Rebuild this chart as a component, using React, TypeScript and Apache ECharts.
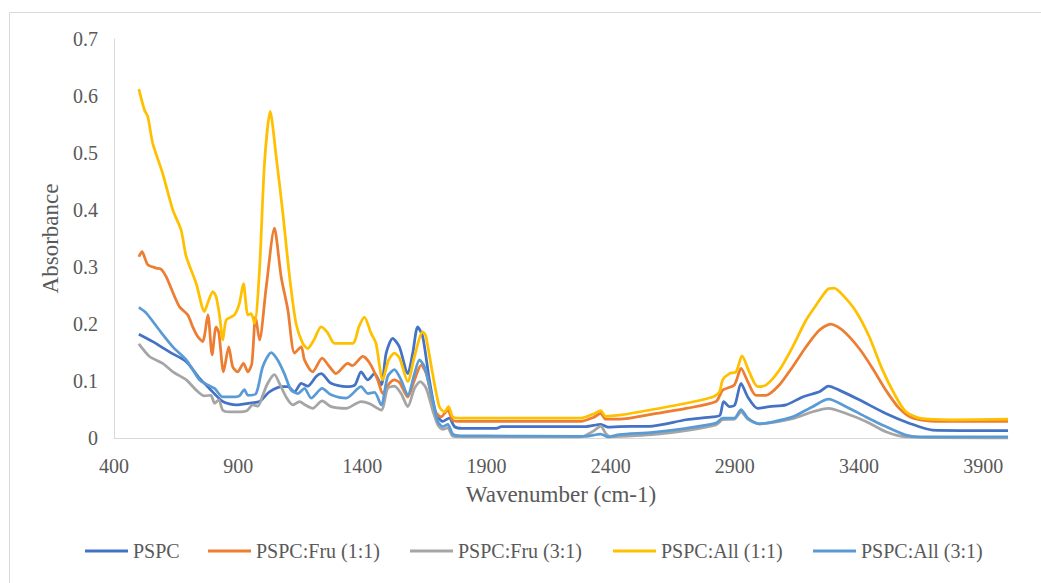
import React, { useEffect, useRef } from "react";
import * as echarts from "echarts";

// ---- Data ----
const seriesNames = ["PSPC", "PSPC:Fru (1:1)", "PSPC:Fru (3:1)", "PSPC:All (1:1)", "PSPC:All (3:1)"];
const seriesColors = ["#4472C4", "#ED7D31", "#A5A5A5", "#FFC000", "#5B9BD5"];

const xTicks = [400, 900, 1400, 1900, 2400, 2900, 3400, 3900];
const yTicks = [0, 0.1, 0.2, 0.3, 0.4, 0.5, 0.6, 0.7];

const pspcWn = [500, 556, 623, 691, 744, 784, 838, 892, 945, 986, 1026, 1080, 1100, 1127, 1154, 1180, 1214, 1234, 1274, 1335, 1370, 1395, 1422, 1449, 1476, 1496, 1522, 1549, 1583, 1603, 1623, 1643, 1670, 1697, 1724, 1750, 1771, 1800, 1940, 1960, 2300, 2360, 2390, 2435, 2569, 2704, 2811, 2840, 2855, 2878, 2900, 2925, 2952, 2992, 3039, 3106, 3173, 3240, 3277, 3320, 3401, 3508, 3602, 3696, 4000];
const pspcAbs = [0.182, 0.169, 0.151, 0.134, 0.105, 0.087, 0.064, 0.058, 0.061, 0.064, 0.081, 0.090, 0.090, 0.081, 0.096, 0.091, 0.108, 0.113, 0.096, 0.090, 0.093, 0.116, 0.102, 0.113, 0.093, 0.149, 0.175, 0.160, 0.113, 0.149, 0.195, 0.178, 0.102, 0.043, 0.029, 0.035, 0.020, 0.017, 0.017, 0.020, 0.020, 0.024, 0.019, 0.020, 0.021, 0.032, 0.037, 0.040, 0.064, 0.055, 0.058, 0.096, 0.072, 0.052, 0.055, 0.058, 0.072, 0.081, 0.091, 0.084, 0.067, 0.043, 0.026, 0.014, 0.013];

const fru11Wn = [500, 513, 525, 536, 570, 590, 610, 644, 664, 697, 717, 737, 757, 778, 795, 811, 822, 841, 862, 878, 898, 921, 939, 955, 970, 986, 1013, 1046, 1073, 1100, 1127, 1154, 1167, 1200, 1238, 1268, 1294, 1341, 1360, 1402, 1430, 1462, 1482, 1509, 1529, 1550, 1583, 1610, 1637, 1660, 1690, 1717, 1744, 1764, 1800, 2280, 2330, 2360, 2380, 2435, 2569, 2704, 2824, 2851, 2898, 2925, 2952, 2985, 3026, 3079, 3133, 3187, 3240, 3287, 3334, 3401, 3455, 3508, 3562, 3616, 3710, 4000];
const fru11Abs = [0.318, 0.327, 0.315, 0.304, 0.298, 0.296, 0.283, 0.248, 0.230, 0.216, 0.195, 0.178, 0.169, 0.216, 0.146, 0.195, 0.185, 0.116, 0.160, 0.125, 0.116, 0.131, 0.116, 0.130, 0.213, 0.172, 0.265, 0.368, 0.283, 0.225, 0.149, 0.160, 0.137, 0.116, 0.140, 0.125, 0.113, 0.131, 0.127, 0.143, 0.131, 0.102, 0.078, 0.096, 0.102, 0.097, 0.072, 0.102, 0.128, 0.110, 0.049, 0.037, 0.049, 0.031, 0.029, 0.029, 0.036, 0.043, 0.033, 0.033, 0.042, 0.052, 0.064, 0.084, 0.093, 0.122, 0.099, 0.075, 0.075, 0.093, 0.125, 0.160, 0.189, 0.200, 0.189, 0.157, 0.122, 0.084, 0.052, 0.035, 0.029, 0.029];

const fru31Wn = [500, 543, 596, 637, 691, 731, 764, 790, 805, 822, 838, 865, 900, 935, 959, 980, 999, 1019, 1046, 1066, 1093, 1120, 1147, 1170, 1200, 1238, 1274, 1335, 1395, 1430, 1476, 1502, 1529, 1556, 1583, 1610, 1633, 1657, 1683, 1704, 1724, 1744, 1764, 1800, 2280, 2330, 2360, 2380, 2400, 2500, 2636, 2824, 2851, 2898, 2925, 2952, 2998, 3133, 3213, 3277, 3348, 3428, 3508, 3589, 4000];
const fru31Abs = [0.165, 0.143, 0.131, 0.116, 0.102, 0.084, 0.074, 0.075, 0.061, 0.067, 0.049, 0.046, 0.046, 0.048, 0.058, 0.056, 0.075, 0.096, 0.111, 0.096, 0.072, 0.058, 0.064, 0.058, 0.052, 0.065, 0.055, 0.052, 0.064, 0.060, 0.049, 0.087, 0.091, 0.078, 0.055, 0.087, 0.099, 0.087, 0.049, 0.023, 0.015, 0.018, 0.003, 0.002, 0.002, 0.012, 0.021, 0.008, 0.002, 0.004, 0.009, 0.023, 0.032, 0.033, 0.046, 0.033, 0.025, 0.034, 0.046, 0.052, 0.043, 0.029, 0.011, 0.002, 0.0];

const all11Wn = [500, 523, 536, 556, 596, 637, 670, 691, 731, 764, 780, 798, 811, 825, 838, 852, 885, 905, 921, 939, 952, 966, 986, 1006, 1029, 1053, 1080, 1107, 1133, 1160, 1180, 1205, 1234, 1260, 1288, 1361, 1386, 1408, 1435, 1455, 1482, 1506, 1529, 1550, 1583, 1610, 1643, 1655, 1683, 1710, 1730, 1747, 1764, 1790, 2280, 2330, 2360, 2380, 2435, 2569, 2704, 2811, 2838, 2851, 2878, 2905, 2929, 2958, 2992, 3026, 3079, 3133, 3187, 3227, 3274, 3300, 3334, 3388, 3441, 3495, 3549, 3589, 3643, 3777, 4000];
const all11Abs = [0.612, 0.575, 0.564, 0.517, 0.464, 0.400, 0.365, 0.318, 0.271, 0.222, 0.240, 0.257, 0.248, 0.215, 0.172, 0.207, 0.216, 0.236, 0.271, 0.216, 0.218, 0.201, 0.295, 0.482, 0.573, 0.494, 0.394, 0.283, 0.201, 0.166, 0.157, 0.172, 0.195, 0.185, 0.166, 0.166, 0.195, 0.212, 0.184, 0.166, 0.102, 0.137, 0.149, 0.140, 0.099, 0.143, 0.186, 0.180, 0.113, 0.055, 0.046, 0.055, 0.037, 0.035, 0.035, 0.042, 0.048, 0.038, 0.040, 0.050, 0.061, 0.072, 0.081, 0.102, 0.113, 0.116, 0.144, 0.116, 0.090, 0.093, 0.119, 0.160, 0.207, 0.233, 0.261, 0.263, 0.251, 0.222, 0.178, 0.119, 0.072, 0.046, 0.035, 0.032, 0.033];

const all31Wn = [500, 530, 583, 637, 691, 744, 778, 805, 838, 878, 905, 925, 939, 972, 999, 1033, 1059, 1086, 1113, 1140, 1167, 1194, 1238, 1274, 1335, 1395, 1422, 1449, 1476, 1502, 1529, 1556, 1583, 1610, 1630, 1650, 1677, 1704, 1724, 1744, 1764, 1790, 2300, 2360, 2390, 2435, 2569, 2704, 2824, 2851, 2898, 2925, 2952, 2998, 3050, 3133, 3213, 3277, 3348, 3428, 3508, 3589, 3643, 4000];
const all31Abs = [0.229, 0.219, 0.189, 0.160, 0.137, 0.102, 0.093, 0.087, 0.072, 0.072, 0.074, 0.085, 0.075, 0.078, 0.125, 0.150, 0.137, 0.113, 0.084, 0.078, 0.087, 0.070, 0.087, 0.076, 0.070, 0.090, 0.078, 0.080, 0.058, 0.108, 0.120, 0.102, 0.075, 0.113, 0.137, 0.125, 0.078, 0.029, 0.020, 0.024, 0.007, 0.004, 0.003, 0.007, 0.002, 0.006, 0.010, 0.017, 0.026, 0.035, 0.035, 0.050, 0.035, 0.025, 0.028, 0.037, 0.055, 0.068, 0.055, 0.037, 0.020, 0.005, 0.002, 0.002];

const seriesWn = [pspcWn, fru11Wn, fru31Wn, all11Wn, all31Wn];
const seriesAbs = [pspcAbs, fru11Abs, fru31Abs, all11Abs, all31Abs];

const FONT = "'Liberation Serif', 'Times New Roman', serif";
const TEXT = "#595959";
const AXIS = "#D9D9D9";

const legendLefts = [85, 208, 410, 613, 813];

export default function App() {
  const ref = useRef<HTMLDivElement>(null);

  useEffect(() => {
    if (!ref.current) return;
    const chart = echarts.init(ref.current, null, { renderer: "svg" });

    const series = seriesNames.map((name, i) => ({
      name,
      type: "line",
      data: seriesWn[i].map((w, j) => [w, seriesAbs[i][j]]),
      showSymbol: false,
      symbol: "none",
      smooth: 0.25,
      lineStyle: { color: seriesColors[i], width: 2.75 },
      itemStyle: { color: seriesColors[i] },
      z: 2 + i,
    }));

    chart.setOption({
      animation: false,
      backgroundColor: "#ffffff",
      textStyle: { fontFamily: FONT },
      graphic: [
        {
          type: "rect",
          shape: { x: 9.5, y: 12.5, width: 1100, height: 700 },
          style: { fill: "none", stroke: AXIS, lineWidth: 1 },
          silent: true,
        },
      ],
      grid: { left: 114, top: 39, right: 33, bottom: 145, containLabel: false },
      xAxis: {
        type: "value",
        min: xTicks[0],
        max: 4000,
        interval: xTicks[1] - xTicks[0],
        name: "Wavenumber (cm-1)",
        nameLocation: "middle",
        nameGap: 45,
        nameTextStyle: { fontFamily: FONT, fontSize: 23, color: TEXT },
        axisLine: { show: true, lineStyle: { color: AXIS, width: 1 } },
        axisTick: { show: false },
        splitLine: { show: false },
        axisLabel: {
          showMaxLabel: false,
          margin: 18,
          fontFamily: FONT,
          fontSize: 20,
          color: TEXT,
          formatter: (v: number) => String(v),
        },
      },
      yAxis: {
        type: "value",
        min: yTicks[0],
        max: yTicks[yTicks.length - 1],
        interval: 0.1,
        name: "Absorbance",
        nameLocation: "middle",
        nameRotate: 90,
        nameGap: 50,
        nameTextStyle: { fontFamily: FONT, fontSize: 23, color: TEXT },
        axisLine: { show: true, lineStyle: { color: AXIS, width: 1 } },
        axisTick: { show: false },
        splitLine: { show: false },
        axisLabel: {
          margin: 16,
          fontFamily: FONT,
          fontSize: 20,
          color: TEXT,
          formatter: (v: number) => (Math.abs(v) < 1e-9 ? "0" : v.toFixed(1)),
        },
      },
      legend: seriesNames.map((name, i) => ({
        data: [name],
        left: legendLefts[i],
        top: 541,
        padding: 0,
        icon: "rect",
        itemWidth: 43,
        itemHeight: 3,
        itemGap: 0,
        selectedMode: false,
        textStyle: { fontFamily: FONT, fontSize: 20, color: TEXT },
      })),
      series,
    });

    return () => chart.dispose();
  }, []);

  return (
    <div
      ref={ref}
      style={{ position: "fixed", left: 0, top: 0, width: 1041, height: 583, background: "#fff" }}
    />
  );
}
